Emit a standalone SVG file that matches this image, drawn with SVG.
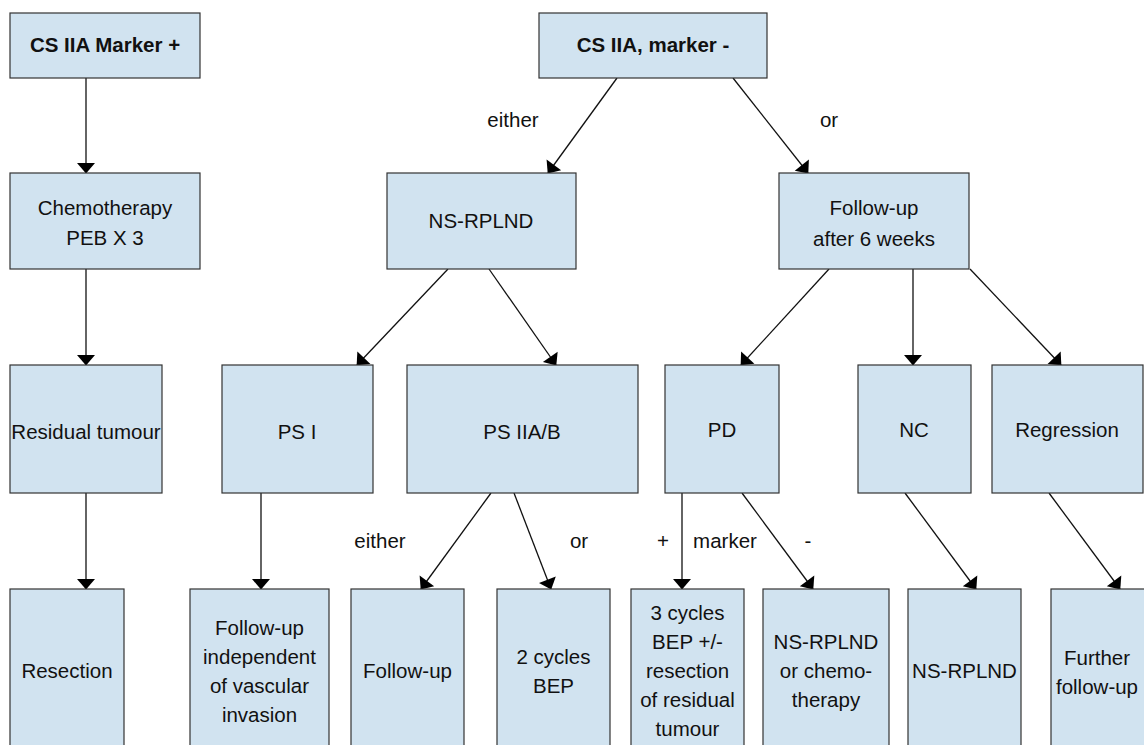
<svg xmlns="http://www.w3.org/2000/svg" width="1144" height="745" viewBox="0 0 1144 745">
<style>
.box{fill:#d1e3f0;stroke:#333;stroke-width:1.2}
.t{font-family:"Liberation Sans",Arial,Helvetica,sans-serif;font-size:20.5px;fill:#111;text-anchor:middle}
.b{font-weight:bold}
.c{stroke:#111;stroke-width:1.3;fill:none;marker-end:url(#ah)}
</style>
<defs>
<marker id="ah" markerUnits="userSpaceOnUse" markerWidth="11" markerHeight="19" refX="10" refY="9" orient="auto" overflow="visible">
<path d="M0,0 L10.5,9 L0,18 z" fill="#000"/>
</marker>
</defs>
<rect width="1144" height="745" fill="#fff"/>
<g id="connectors">
<line class="c" x1="86" y1="78" x2="86" y2="173"/>
<line class="c" x1="86" y1="269" x2="86" y2="365"/>
<line class="c" x1="86" y1="493" x2="86" y2="589"/>
<line class="c" x1="261" y1="493" x2="261" y2="589"/>
<line class="c" x1="617" y1="78" x2="548" y2="173"/>
<line class="c" x1="733" y1="78" x2="808" y2="173"/>
<line class="c" x1="448" y1="269" x2="357" y2="365"/>
<line class="c" x1="489" y1="269" x2="556" y2="365"/>
<line class="c" x1="829" y1="269" x2="741" y2="365"/>
<line class="c" x1="913" y1="269" x2="913" y2="365"/>
<line class="c" x1="970" y1="269" x2="1061" y2="365"/>
<line class="c" x1="491" y1="493" x2="421" y2="589"/>
<line class="c" x1="514" y1="493" x2="551" y2="589"/>
<line class="c" x1="682" y1="493" x2="682" y2="589"/>
<line class="c" x1="742" y1="493" x2="813" y2="589"/>
<line class="c" x1="905" y1="493" x2="976" y2="589"/>
<line class="c" x1="1049" y1="493" x2="1120" y2="589"/>
<text class="t" x="513" y="127">either</text>
<text class="t" x="829" y="127">or</text>
<text class="t" x="380" y="548">either</text>
<text class="t" x="579" y="548">or</text>
<text class="t" x="663" y="548">+</text>
<text class="t" x="725" y="548">marker</text>
<text class="t" x="808" y="548">-</text>
</g>
<g id="cs-iia-marker-pos"><rect class="box" x="10" y="13" width="190" height="65"/><text class="t b" x="105" y="52">CS IIA Marker +</text></g>
<g id="cs-iia-marker-neg"><rect class="box" x="539" y="13" width="228" height="65"/><text class="t b" x="653" y="52">CS IIA, marker -</text></g>
<g id="chemotherapy"><rect class="box" x="10" y="173" width="190" height="96"/><text class="t" x="105" y="215">Chemotherapy</text><text class="t" x="105" y="245">PEB X 3</text></g>
<g id="ns-rplnd-1"><rect class="box" x="387" y="173" width="189" height="96"/><text class="t" x="481" y="228">NS-RPLND</text></g>
<g id="follow-up-6w"><rect class="box" x="779" y="173" width="190" height="96"/><text class="t" x="874" y="215">Follow-up</text><text class="t" x="874" y="246">after 6 weeks</text></g>
<g id="residual-tumour"><rect class="box" x="10" y="365" width="152" height="128"/><text class="t" x="86" y="439">Residual tumour</text></g>
<g id="ps-i"><rect class="box" x="222" y="365" width="151" height="128"/><text class="t" x="297" y="439">PS I</text></g>
<g id="ps-iiab"><rect class="box" x="407" y="365" width="231" height="128"/><text class="t" x="522" y="439">PS IIA/B</text></g>
<g id="pd"><rect class="box" x="665" y="365" width="114" height="128"/><text class="t" x="722" y="437">PD</text></g>
<g id="nc"><rect class="box" x="858" y="365" width="113" height="128"/><text class="t" x="914" y="437">NC</text></g>
<g id="regression"><rect class="box" x="992" y="365" width="151" height="128"/><text class="t" x="1067" y="437">Regression</text></g>
<g id="resection"><rect class="box" x="10" y="589" width="114" height="170"/><text class="t" x="67" y="678">Resection</text></g>
<g id="follow-up-independent"><rect class="box" x="190" y="589" width="139" height="170"/><text class="t" x="259.500" y="635">Follow-up</text><text class="t" x="259.500" y="664">independent</text><text class="t" x="259.500" y="693">of vascular</text><text class="t" x="259.500" y="722">invasion</text></g>
<g id="follow-up"><rect class="box" x="351" y="589" width="113" height="170"/><text class="t" x="407.500" y="678">Follow-up</text></g>
<g id="two-cycles-bep"><rect class="box" x="497" y="589" width="113" height="170"/><text class="t" x="553.500" y="664">2 cycles</text><text class="t" x="553.500" y="693">BEP</text></g>
<g id="three-cycles-bep"><rect class="box" x="631" y="589" width="113" height="170"/><text class="t" x="687.500" y="620">3 cycles</text><text class="t" x="687.500" y="649">BEP +/-</text><text class="t" x="687.500" y="678">resection</text><text class="t" x="687.500" y="707">of residual</text><text class="t" x="687.500" y="736">tumour</text></g>
<g id="ns-rplnd-or-chemo"><rect class="box" x="763" y="589" width="126" height="170"/><text class="t" x="826" y="649">NS-RPLND</text><text class="t" x="826" y="678">or chemo-</text><text class="t" x="826" y="707">therapy</text></g>
<g id="ns-rplnd-2"><rect class="box" x="908" y="589" width="113" height="170"/><text class="t" x="964.500" y="678">NS-RPLND</text></g>
<g id="further-follow-up"><rect class="box" x="1051" y="589" width="113" height="170"/><text class="t" x="1097" y="665">Further</text><text class="t" x="1097" y="694">follow-up</text></g>
</svg>
